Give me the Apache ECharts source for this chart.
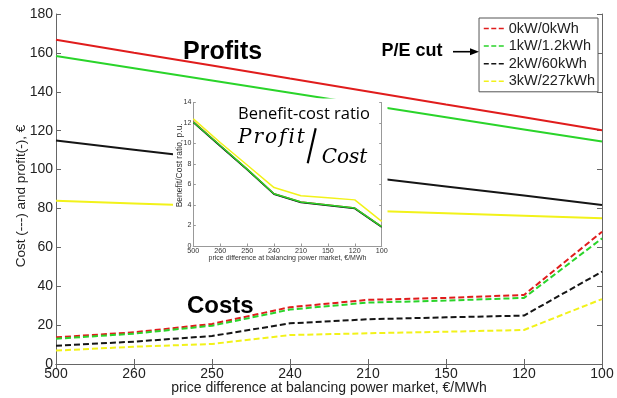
<!DOCTYPE html>
<html><head><meta charset="utf-8">
<script src="https://cdn.jsdelivr.net/npm/echarts@6/dist/echarts.min.js"></script>
<style>html,body{margin:0;padding:0;background:#fff}#c{width:617px;height:398px}</style>
</head><body><div id="c"></div>
<script>
const categories = ['500','260','250','240','210','150','120','100'];
const seriesNames = ['0kW/0kWh','1kW/1.2kWh','2kW/60kWh','3kW/227kWh'];
const colors = ['#e01c1c','#2ad42a','#151515','#f2f21a'];
const profitRed    = [166.8, 160.1, 153.5, 146.8, 140.2, 133.5, 126.9, 120.2];
const profitGreen  = [158.4, 152.1, 145.8, 139.5, 133.2, 126.9, 120.6, 114.4];
const profitBlack  = [114.9, 110.2, 105.5, 100.7, 96.0, 91.3, 86.6, 81.8];
const profitYellow = [83.9, 82.6, 81.3, 80.0, 78.8, 77.5, 76.2, 74.9];
const costRed    = [13.7, 16.3, 20.6, 29.2, 33.0, 34.0, 35.5, 68.0];
const costGreen  = [13.0, 15.6, 19.7, 28.0, 31.6, 32.6, 34.0, 64.6];
const costBlack  = [9.4, 11.5, 14.4, 20.9, 23.0, 24.0, 24.9, 47.5];
const costYellow = [6.9, 8.9, 10.3, 14.9, 15.8, 16.6, 17.5, 33.4];
const ratioRed    = [12.15, 9.8, 7.5, 5.1, 4.3, 4.0, 3.7, 1.9];
const ratioGreen  = [12.1, 9.8, 7.5, 5.1, 4.3, 4.0, 3.7, 1.9];
const ratioBlack  = [12.05, 9.75, 7.45, 5.05, 4.25, 3.95, 3.65, 1.85];
const ratioYellow = [12.4, 10.1, 7.9, 5.7, 4.9, 4.7, 4.5, 2.4];
const mainYTicks = {min: 0, max: 180, interval: 20};
const insetYTicks = {min: 0, max: 14, interval: 2};

const profits = [profitRed, profitGreen, profitBlack, profitYellow];
const costs = [costRed, costGreen, costBlack, costYellow];
const ratios = [ratioRed, ratioGreen, ratioBlack, ratioYellow];

const FONT = '"Liberation Sans", Arial, sans-serif';
const chart = echarts.init(document.getElementById('c'), null, {renderer: 'canvas'});

const series = [];
seriesNames.forEach((n, i) => {
  series.push({name: n, type: 'line', xAxisIndex: 0, yAxisIndex: 0, data: costs[i], symbol: 'none',
    lineStyle: {color: colors[i], width: 2, type: [6, 3]}, itemStyle: {color: colors[i]}, z: 2, animation: false});
});
seriesNames.forEach((n, i) => {
  series.push({name: n, type: 'line', xAxisIndex: 0, yAxisIndex: 0, data: profits[i], symbol: 'none',
    lineStyle: {color: colors[i], width: 2, type: 'solid'}, itemStyle: {color: colors[i]}, z: 2, animation: false});
});
[0, 2, 1, 3].forEach((i) => {
  series.push({name: seriesNames[i], type: 'line', xAxisIndex: 2, yAxisIndex: 2, data: ratios[i], symbol: 'none',
    lineStyle: {color: colors[i], width: 1.5}, itemStyle: {color: colors[i]}, z: 12, animation: false});
});

const axisLine = {show: true, lineStyle: {color: '#666', width: 1}};
const insetLine = {show: true, lineStyle: {color: '#999', width: 1}};

const option = {
  animation: false,
  backgroundColor: '#fff',
  textStyle: {fontFamily: FONT},
  grid: [
    {left: 56, right: 15, top: 14, bottom: 34, containLabel: false, outerBoundsMode: 'none'},
    {left: 193.3, top: 102.5, width: 188.4, height: 143.5, containLabel: false, outerBoundsMode: 'none'}
  ],
  legend: {
    orient: 'vertical', right: 19, top: 18,
    data: seriesNames.map((n, i) => ({name: n, itemStyle: {opacity: 0}, lineStyle: {color: colors[i], width: 1.5, type: [5, 2.5]}})),
    itemWidth: 20, itemHeight: 14, itemGap: 2.6,
    padding: [3, 3, 3, 4],
    borderColor: '#555', borderWidth: 1, backgroundColor: '#fff',
    textStyle: {fontSize: 14.5, color: '#222', fontFamily: FONT},
    selectedMode: false, z: 20
  },
  xAxis: [
    {type: 'category', gridIndex: 0, data: categories, boundaryGap: false, position: 'bottom',
     axisLine: axisLine, axisTick: {show: true, inside: true, length: 5, lineStyle: {color: '#666'}},
     axisLabel: {fontSize: 14, color: '#222', margin: 3, fontFamily: FONT},
     splitLine: {show: false},
     name: 'price difference at balancing power market, €/MWh', nameLocation: 'middle', nameGap: 17, nameMoveOverlap: false,
     nameTextStyle: {fontSize: 14, color: '#222', fontFamily: FONT}},
    {type: 'category', gridIndex: 0, data: categories, boundaryGap: false, position: 'top',
     axisLine: axisLine, axisTick: {show: true, inside: true, length: 5, lineStyle: {color: '#666'}},
     axisLabel: {show: false}, splitLine: {show: false}},
    {type: 'category', gridIndex: 1, data: categories, boundaryGap: false, position: 'bottom', z: 11,
     axisLine: insetLine, axisTick: {show: true, inside: true, length: 2.5, lineStyle: {color: '#999'}},
     axisLabel: {fontSize: 7.2, color: '#333', margin: 1.5, fontFamily: FONT},
     splitLine: {show: false},
     name: 'price difference at balancing power market, €/MWh', nameLocation: 'middle', nameGap: 8.5, nameMoveOverlap: false,
     nameTextStyle: {fontSize: 7, color: '#333', fontFamily: FONT}},
    {type: 'category', gridIndex: 1, data: categories, boundaryGap: false, position: 'top', z: 11,
     axisLine: insetLine, axisTick: {show: false}, axisLabel: {show: false}, splitLine: {show: false}}
  ],
  yAxis: [
    {type: 'value', gridIndex: 0, min: mainYTicks.min, max: mainYTicks.max, interval: mainYTicks.interval, position: 'left',
     axisLine: axisLine, axisTick: {show: true, inside: true, length: 5, lineStyle: {color: '#666'}},
     axisLabel: {fontSize: 14, color: '#222', margin: 3, fontFamily: FONT},
     splitLine: {show: false},
     name: 'Cost (---) and profit(-), €', nameLocation: 'middle', nameGap: 28, nameMoveOverlap: false,
     nameTextStyle: {fontSize: 13.5, color: '#222', fontFamily: FONT, padding: [0, 14, 0, 0]}},
    {type: 'value', gridIndex: 0, min: mainYTicks.min, max: mainYTicks.max, interval: mainYTicks.interval, position: 'right',
     axisLine: axisLine, axisTick: {show: true, inside: true, length: 5, lineStyle: {color: '#666'}},
     axisLabel: {show: false}, splitLine: {show: false}},
    {type: 'value', gridIndex: 1, min: insetYTicks.min, max: insetYTicks.max, interval: insetYTicks.interval, position: 'left', z: 11,
     axisLine: insetLine, axisTick: {show: true, inside: true, length: 2.5, lineStyle: {color: '#999'}},
     axisLabel: {fontSize: 7, color: '#333', margin: 2, fontFamily: FONT},
     splitLine: {show: false},
     name: 'Benefit/Cost ratio, p.u.', nameLocation: 'middle', nameGap: 9, nameMoveOverlap: false,
     nameTextStyle: {fontSize: 8.5, color: '#333', fontFamily: FONT, padding: [0, 0, 0, 18]}},
    {type: 'value', gridIndex: 1, min: insetYTicks.min, max: insetYTicks.max, interval: insetYTicks.interval, position: 'right', z: 11,
     axisLine: insetLine, axisTick: {show: true, inside: true, length: 2.5, lineStyle: {color: '#999'}},
     axisLabel: {show: false}, splitLine: {show: false}}
  ],
  series: series,
  graphic: [
    {type: 'rect', z: 10, shape: {x: 173, y: 98.5, width: 214.5, height: 166}, style: {fill: '#fff'}, silent: true},
    {type: 'text', z: 20, x: 183, y: 52.5, style: {text: 'Profits', font: 'bold 25px ' + FONT, fill: '#000', verticalAlign: 'middle'}},
    {type: 'text', z: 20, x: 187, y: 306, style: {text: 'Costs', font: 'bold 24px ' + FONT, fill: '#000', verticalAlign: 'middle'}},
    {type: 'text', z: 20, x: 381.5, y: 51.5, style: {text: 'P/E cut', font: 'bold 18px ' + FONT, fill: '#000', verticalAlign: 'middle'}},
    {type: 'line', z: 20, shape: {x1: 453, y1: 51.7, x2: 471, y2: 51.7}, style: {stroke: '#000', lineWidth: 1.6}},
    {type: 'polygon', z: 20, shape: {points: [[479, 51.7], [470, 48.2], [470, 55.2]]}, style: {fill: '#000'}},
    {type: 'text', z: 13, x: 238, y: 113.8, style: {text: 'Benefit-cost ratio', font: '16.5px "Open Sans", sans-serif', fill: '#000', verticalAlign: 'middle'}},
    {type: 'text', z: 13, x: 238, y: 137.5, style: {text: 'P\u200Ar\u200Ao\u200Af\u200Ai\u200At', font: 'italic 20px "DejaVu Serif", serif', fill: '#000', verticalAlign: 'middle'}},
    {type: 'line', z: 13, shape: {x1: 315.7, y1: 128.3, x2: 307.7, y2: 163.3}, style: {stroke: '#000', lineWidth: 2.2}},
    {type: 'text', z: 13, x: 321.7, y: 157.5, style: {text: 'Cost', font: 'italic 20px "DejaVu Serif", serif', fill: '#000', verticalAlign: 'middle'}}
  ]
};
chart.setOption(option);
</script>
</body></html>
